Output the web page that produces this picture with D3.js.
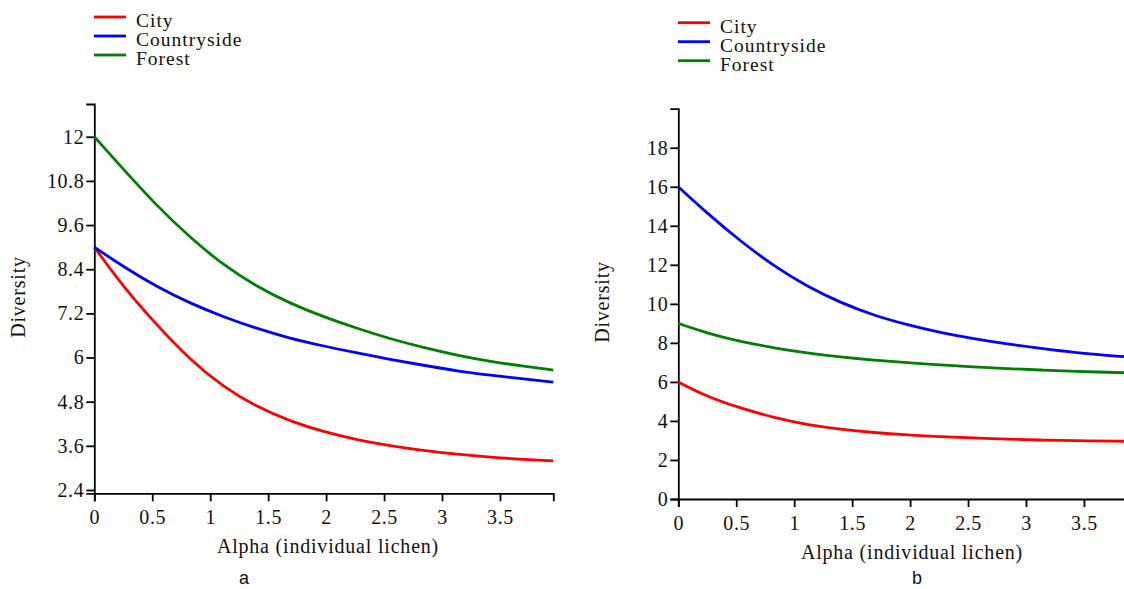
<!DOCTYPE html>
<html>
<head>
<meta charset="utf-8">
<script src="https://cdn.jsdelivr.net/npm/d3@7"></script>
<style>
  body { margin: 0; background: #fff; }
</style>
</head>
<body>
<svg id="chart" width="1124" height="589"></svg>
<script>
// series names shared by both panels
var seriesNames = ["City", "Countryside", "Forest"];

// panel a
var alphaA = [0, 0.25, 0.54, 0.83, 1.11, 1.4, 1.69, 1.98, 2.27, 2.55, 2.84, 3.13, 3.42, 3.71, 3.96];
var cityA = [9.0, 7.92, 6.88, 5.93, 5.21, 4.66, 4.27, 3.98, 3.76, 3.60, 3.47, 3.37, 3.29, 3.23, 3.19];
var countrysideA = [9.0, 8.47, 7.92, 7.47, 7.11, 6.79, 6.52, 6.31, 6.12, 5.95, 5.79, 5.63, 5.52, 5.42, 5.33];
var forestA = [12.0, 11.12, 10.12, 9.25, 8.52, 7.93, 7.47, 7.10, 6.79, 6.51, 6.27, 6.06, 5.89, 5.76, 5.66];
var yTicksA = [2.4, 3.6, 4.8, 6, 7.2, 8.4, 9.6, 10.8, 12];

// panel b
var alphaB = [0, 0.25, 0.54, 0.83, 1.11, 1.4, 1.69, 1.98, 2.26, 2.55, 2.84, 3.13, 3.41, 3.85];
var cityB = [6.0, 5.24, 4.65, 4.16, 3.81, 3.57, 3.40, 3.28, 3.19, 3.13, 3.07, 3.02, 2.99, 2.96];
var countrysideB = [16.0, 14.64, 13.19, 11.92, 10.90, 10.06, 9.40, 8.92, 8.53, 8.21, 7.94, 7.71, 7.50, 7.29];
var forestB = [9.0, 8.49, 8.06, 7.74, 7.48, 7.27, 7.11, 6.98, 6.87, 6.77, 6.68, 6.61, 6.54, 6.47];
var yTicksB = [0, 2, 4, 6, 8, 10, 12, 14, 16, 18];

var xTicks = [0, 0.5, 1, 1.5, 2, 2.5, 3, 3.5];
var xLabel = "Alpha (individual lichen)";
var yLabel = "Diversity";

var colors = ["#ff0000", "#0000ff", "#008000"];
var serif = "'Liberation Serif', 'Times New Roman', Times, 'DejaVu Serif', serif";

var svg = d3.select("#chart");

function panel(opts) {
    var g = svg.append("g");

    var x = d3.scaleLinear().domain(opts.xDomain).range(opts.xRange);
    var y = d3.scaleLinear().domain(opts.yDomain).range(opts.yRange);

    var series = opts.values.map(function(vals, i) {
        return {
            name: seriesNames[i],
            color: colors[i],
            points: vals.map(function(v, j) { return [opts.alpha[j], v]; })
        };
    });

    var line = d3.line()
        .x(function(d) { return x(d[0]); })
        .y(function(d) { return y(d[1]); })
        .curve(d3.curveBasis);

    // axes
    var xAxis = d3.axisBottom(x).tickValues(xTicks).tickSize(8).tickPadding(9)
        .tickFormat(d3.format("~g"));
    var yAxis = d3.axisLeft(y).tickValues(opts.yTicks).tickSize(8).tickPadding(2)
        .tickFormat(d3.format("~g"));

    g.append("g")
        .attr("transform", "translate(0," + opts.yRange[0] + ")")
        .call(xAxis);
    g.append("g")
        .attr("transform", "translate(" + opts.xRange[0] + ",0)")
        .call(yAxis);

    g.selectAll(".domain, .tick line")
        .attr("stroke", "#000")
        .attr("stroke-width", 1.8);
    g.selectAll(".tick text")
        .style("font-family", serif)
        .style("font-size", "20px")
        .style("letter-spacing", "0.6px")
        .attr("fill", "#111");

    // curves
    g.selectAll("path.curve")
        .data(series)
        .enter()
        .append("path")
        .attr("class", "curve")
        .attr("d", function(d) { return line(d.points); })
        .attr("fill", "none")
        .attr("stroke", function(d) { return d.color; })
        .attr("stroke-width", 2.8);

    // axis titles
    g.append("text")
        .attr("x", opts.xTitle[0])
        .attr("y", opts.xTitle[1])
        .attr("text-anchor", "middle")
        .style("font-family", serif)
        .style("font-size", "20px")
        .style("letter-spacing", "0.8px")
        .attr("fill", "#111")
        .text(xLabel);

    g.append("text")
        .attr("transform", "translate(" + opts.yTitle[0] + "," + opts.yTitle[1] + ") rotate(-90)")
        .attr("text-anchor", "middle")
        .style("font-family", serif)
        .style("font-size", "20px")
        .style("letter-spacing", "0.8px")
        .attr("fill", "#111")
        .text(yLabel);

    g.append("text")
        .attr("x", opts.tag[0])
        .attr("y", opts.tag[1])
        .attr("text-anchor", "middle")
        .style("font-family", "'Liberation Sans', Arial, sans-serif")
        .style("font-size", "18px")
        .attr("fill", "#111")
        .text(opts.tagText);

    // legend
    var leg = g.selectAll("g.legend")
        .data(series)
        .enter()
        .append("g")
        .attr("class", "legend")
        .attr("transform", function(d, i) {
            return "translate(" + opts.legend[0] + "," + (opts.legend[1] + i * 19) + ")";
        });
    leg.append("line")
        .attr("x1", 0).attr("x2", 32)
        .attr("y1", 0).attr("y2", 0)
        .attr("stroke", function(d) { return d.color; })
        .attr("stroke-width", 2.8);
    leg.append("text")
        .attr("x", 42)
        .attr("y", 10)
        .style("font-family", serif)
        .style("font-size", "19.5px")
        .style("letter-spacing", "1px")
        .attr("fill", "#111")
        .text(function(d) { return d.name; });
}

panel({
    alpha: alphaA,
    values: [cityA, countrysideA, forestA],
    xDomain: [0, 3.96], xRange: [94.3, 553.3],
    yDomain: [2.31, 12.89], yRange: [493.3, 104],
    yTicks: yTicksA,
    xTitle: [328, 553], yTitle: [25, 297],
    tag: [244, 584], tagText: "a",
    legend: [94, 17]
});

panel({
    alpha: alphaB,
    values: [cityB, countrysideB, forestB],
    xDomain: [0, 3.85], xRange: [678.3, 1124.5],
    yDomain: [0, 20], yRange: [499, 108.7],
    yTicks: yTicksB,
    xTitle: [912, 558.5], yTitle: [609, 302],
    tag: [917, 584], tagText: "b",
    legend: [678, 22.7]
});
</script>
</body>
</html>
